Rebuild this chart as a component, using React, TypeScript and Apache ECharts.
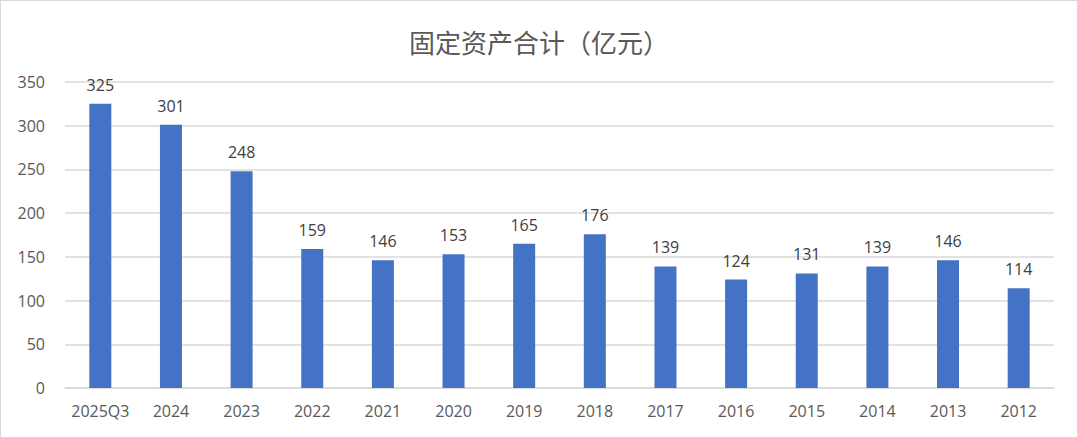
import React, { useEffect, useRef } from "react";
import * as echarts from "echarts";

const categories = ["2025Q3", "2024", "2023", "2022", "2021", "2020", "2019", "2018", "2017", "2016", "2015", "2014", "2013", "2012"];
const values = [325, 301, 248, 159, 146, 153, 165, 176, 139, 124, 131, 139, 146, 114];
const title = "固定资产合计（亿元）";

export default function App() {
  const ref = useRef<HTMLDivElement>(null);
  useEffect(() => {
    document.body.style.margin = "0";
    const chart = echarts.init(ref.current!, null, { renderer: "svg" });
    const cjk = "'Noto Sans CJK SC', 'Noto Sans', sans-serif";
    const num = "'Open Sans', 'Noto Sans', sans-serif";
    chart.setOption({
      animation: false,
      backgroundColor: "#ffffff",
      title: {
        text: title,
        left: "center",
        top: 22,
        textStyle: { fontSize: 26, fontWeight: "normal", color: "#595959", fontFamily: cjk },
      },
      grid: { left: 64, right: 23, top: 81, bottom: 49 },
      xAxis: {
        type: "category",
        data: categories,
        axisLine: { lineStyle: { color: "#d9d9d9", width: 1.5 } },
        axisTick: { show: false },
        axisLabel: { color: "#595959", fontSize: 16, margin: 15, interval: 0, fontFamily: num },
      },
      yAxis: {
        type: "value",
        min: 0,
        max: 350,
        interval: 50,
        splitLine: { lineStyle: { color: "#d9d9d9", width: 1.5 } },
        axisLine: { show: false },
        axisTick: { show: false },
        axisLabel: { color: "#595959", fontSize: 16, margin: 20, fontFamily: num },
      },
      series: [
        {
          type: "bar",
          data: values,
          barWidth: 22,
          itemStyle: { color: "#4472C4" },
          label: {
            show: true,
            position: "top",
            distance: 11,
            color: "#404040",
            fontSize: 16,
            fontFamily: num,
          },
        },
      ],
    });
    return () => chart.dispose();
  }, []);
  return (
    <div
      style={{
        position: "absolute",
        left: 0,
        top: 0,
        width: 1078,
        height: 438,
        boxSizing: "border-box",
        border: "1px solid #d9d9d9",
        background: "#fff",
      }}
    >
      <div ref={ref} style={{ width: 1076, height: 436 }} />
    </div>
  );
}
